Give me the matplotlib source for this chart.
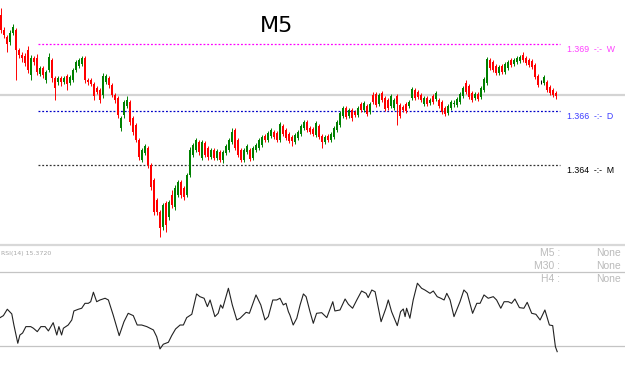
import numpy as np
import matplotlib
matplotlib.use("Agg")
import matplotlib.pyplot as plt
from matplotlib.lines import Line2D

# candle prices are kept in points (0.00001) above BASE
BASE = 1.36
POINT = 0.00001

opens = [1016, 956, 928, 908, 944, 956, 876, 856, 852, 876,
         776, 844, 844, 780, 804, 756, 796, 836, 764, 748,
         764, 748, 772, 744, 756, 796, 812, 820, 844, 756,
         756, 740, 724, 716, 696, 748, 764, 736, 696, 684,
         564, 616, 652, 668, 604, 576, 516, 436, 464, 484,
         416, 356, 276, 228, 168, 264, 208, 296, 248, 296,
         348, 324, 296, 376, 456, 476, 508, 444, 504, 484,
         448, 476, 444, 468, 436, 464, 476, 508, 556, 516,
         476, 436, 468, 476, 444, 476, 484, 496, 532, 516,
         532, 548, 544, 516, 572, 556, 540, 528, 508, 524,
         540, 564, 588, 564, 560, 536, 572, 532, 508, 532,
         516, 528, 556, 576, 612, 644, 612, 636, 628, 616,
         660, 636, 652, 628, 696, 700, 660, 704, 684, 676,
         652, 644, 692, 656, 648, 660, 652, 684, 716, 708,
         696, 660, 684, 664, 692, 680, 676, 668, 644, 624,
         644, 660, 656, 668, 692, 744, 732, 704, 684, 700,
         688, 716, 744, 836, 828, 812, 784, 812, 788, 804,
         836, 820, 828, 832, 856, 844, 836, 832, 816, 772,
         748, 744, 748, 728, 716, 704]
closes = [956, 936, 900, 944, 968, 876, 856, 844, 824, 796,
          844, 828, 788, 804, 776, 788, 848, 764, 724, 764,
          748, 764, 740, 768, 796, 828, 836, 844, 756, 748,
          740, 692, 708, 676, 772, 772, 736, 696, 676, 616,
          604, 668, 676, 588, 548, 516, 448, 476, 492, 416,
          328, 228, 228, 164, 256, 176, 268, 256, 324, 348,
          296, 288, 376, 476, 496, 516, 468, 508, 456, 448,
          476, 444, 472, 436, 468, 492, 516, 548, 484, 456,
          436, 476, 492, 440, 484, 496, 516, 528, 516, 544,
          556, 528, 516, 580, 540, 524, 512, 512, 536, 548,
          572, 588, 556, 548, 540, 584, 528, 508, 528, 516,
          540, 564, 588, 624, 644, 608, 636, 604, 616, 644,
          636, 664, 620, 660, 668, 656, 696, 676, 640, 644,
          692, 676, 660, 612, 636, 632, 668, 720, 684, 688,
          676, 684, 660, 676, 668, 704, 652, 628, 620, 652,
          668, 664, 680, 700, 724, 708, 688, 676, 700, 680,
          724, 760, 840, 804, 796, 784, 808, 788, 820, 828,
          816, 836, 844, 848, 836, 824, 816, 808, 768, 736,
          748, 768, 716, 704, 696, 692]
highs = [1044, 968, 936, 956, 980, 964, 884, 868, 864, 892,
         856, 852, 860, 812, 812, 796, 864, 844, 772, 772,
         772, 772, 780, 776, 804, 836, 844, 852, 852, 764,
         764, 748, 732, 724, 784, 780, 772, 744, 704, 692,
         612, 676, 692, 676, 612, 584, 524, 484, 500, 492,
         424, 364, 284, 236, 264, 272, 276, 316, 336, 356,
         356, 332, 384, 488, 504, 524, 516, 516, 512, 492,
         484, 484, 480, 476, 476, 500, 524, 564, 564, 524,
         484, 484, 500, 484, 492, 504, 524, 536, 540, 552,
         564, 556, 552, 588, 580, 564, 548, 536, 544, 556,
         580, 596, 596, 572, 568, 592, 580, 540, 536, 540,
         548, 572, 596, 632, 652, 652, 644, 644, 636, 652,
         668, 672, 660, 668, 708, 708, 704, 712, 692, 684,
         700, 684, 700, 664, 656, 668, 676, 728, 724, 716,
         704, 692, 692, 684, 700, 712, 684, 676, 652, 660,
         676, 676, 688, 708, 732, 756, 740, 712, 708, 708,
         732, 768, 848, 844, 836, 820, 816, 820, 828, 836,
         844, 844, 852, 856, 868, 852, 844, 840, 824, 780,
         756, 776, 756, 736, 724, 712]
lows = [944, 924, 868, 896, 936, 756, 844, 828, 812, 784,
        756, 816, 776, 772, 764, 744, 788, 748, 676, 736,
        732, 740, 716, 736, 748, 788, 804, 812, 744, 736,
        732, 676, 700, 664, 684, 740, 724, 688, 664, 604,
        552, 604, 644, 576, 536, 508, 436, 428, 456, 404,
        316, 216, 216, 128, 156, 148, 196, 244, 236, 288,
        284, 276, 288, 368, 448, 468, 456, 436, 448, 436,
        440, 436, 436, 428, 424, 456, 468, 500, 476, 448,
        428, 428, 460, 432, 436, 468, 476, 488, 508, 508,
        524, 520, 508, 508, 532, 516, 504, 492, 500, 516,
        532, 556, 548, 540, 532, 528, 520, 484, 500, 508,
        508, 520, 548, 568, 604, 600, 604, 592, 608, 608,
        628, 628, 612, 620, 660, 648, 652, 668, 632, 636,
        644, 636, 576, 604, 628, 624, 644, 676, 676, 680,
        668, 652, 652, 656, 660, 672, 644, 620, 612, 616,
        636, 648, 648, 660, 684, 700, 680, 668, 676, 672,
        680, 708, 736, 796, 788, 776, 776, 780, 780, 796,
        808, 812, 820, 824, 828, 816, 808, 800, 760, 728,
        740, 736, 708, 696, 688, 680]

bid = 1.36696
levels = [1.36900, 1.36632, 1.36416]
level_names = ["W", "D", "M"]
level_colors = ["#ff00ff", "#0000c8", "#333333"]
label_colors = ["#ff40ff", "#3c3cff", "#000000"]

# RSI(14), positions in candle index units
rsi_idx = [-0.3, 0.8, 2.1, 3.6, 4.3, 5.6, 6.3, 7.2, 8.3, 9.9,
           10.8, 12.1, 13.3, 14.7, 15.8, 17.4, 18.6, 19.3, 20.2, 20.8,
           22.4, 23.6, 24.3, 25.8, 26.9, 28.0, 29.1, 29.9, 30.8, 31.9,
           33.0, 34.7, 35.8, 37.4, 39.4, 41.0, 42.4, 44.1, 45.4, 46.9,
           48.6, 50.8, 51.9, 53.0, 54.1, 55.8, 56.9, 58.2, 59.7, 60.8,
           61.9, 63.6, 65.2, 66.3, 67.7, 68.8, 69.7, 71.3, 72.4, 73.2,
           73.9, 75.8, 77.1, 78.6, 79.7, 81.7, 82.8, 85.0, 86.6, 88.0,
           89.1, 90.6, 91.9, 93.0, 94.1, 95.0, 95.8, 96.3, 97.4, 98.6,
           99.7, 100.8, 101.7, 103.0, 104.1, 105.2, 106.9, 108.6, 110.6, 111.3,
           113.0, 114.7, 115.8, 117.2, 118.6, 120.2, 121.7, 122.4, 123.6, 124.7,
           126.7, 128.3, 129.1, 130.2, 132.1, 133.2, 134.1, 134.7, 135.2, 136.3,
           137.4, 138.8, 140.2, 141.3, 143.0, 144.1, 145.4, 146.6, 147.7, 148.6,
           149.7, 151.0, 151.9, 153.0, 154.3, 155.4, 157.2, 158.6, 159.7, 161.0,
           162.4, 164.1, 165.2, 166.6, 167.7, 169.1, 170.2, 171.3, 172.8, 174.3,
           175.4, 176.9, 178.3, 179.7, 181.3, 182.8, 183.9, 184.8, 185.4]
rsi_val = [43.0, 44.6, 49.8, 46.0, 37.0, 22.2, 28.9, 30.5, 35.7, 35.7,
           34.4, 31.6, 35.7, 35.7, 32.2, 38.9, 28.9, 35.7, 28.9, 34.4,
           37.0, 41.1, 48.4, 49.8, 50.6, 54.6, 54.6, 55.9, 63.6, 55.9,
           57.3, 58.7, 57.3, 45.1, 28.4, 39.7, 46.5, 44.6, 37.0, 37.0,
           35.7, 33.0, 27.5, 17.6, 21.4, 23.0, 28.4, 33.8, 37.0, 37.0,
           43.0, 45.7, 62.2, 60.0, 58.7, 51.9, 57.3, 43.8, 46.5, 53.3,
           50.6, 66.8, 53.3, 41.1, 42.5, 47.3, 46.5, 61.4, 53.3, 41.1,
           43.8, 57.3, 57.3, 58.7, 53.3, 54.6, 47.8, 45.1, 37.0, 42.5,
           53.3, 62.2, 60.0, 47.8, 38.4, 46.5, 47.0, 43.0, 55.9, 48.4,
           49.2, 58.1, 53.8, 50.6, 57.3, 64.6, 62.7, 59.2, 65.4, 64.0,
           39.7, 50.6, 57.3, 47.8, 36.5, 47.8, 50.0, 43.8, 50.6, 42.5,
           57.3, 70.9, 66.8, 65.4, 62.7, 64.6, 60.0, 58.7, 57.3, 62.7,
           57.3, 43.8, 49.2, 55.9, 65.4, 62.7, 46.5, 54.6, 54.6, 61.4,
           58.7, 60.0, 57.3, 50.6, 55.9, 55.9, 54.6, 58.1, 51.1, 50.6,
           55.4, 46.5, 45.7, 41.1, 49.2, 37.0, 36.5, 19.4, 15.372]
rsi_levels = [20, 80]

tf_names = ["M5", "M30", "H4"]
tf_signals = ["None", "None", "None"]

W, H = 625, 370
fig = plt.figure(figsize=(W / 100, H / 100), dpi=100)
ax = fig.add_axes([0, 1 - 244 / H, 1, 244 / H])
ax2 = fig.add_axes([0, 0, 1, 124 / H])
for a in (ax, ax2):
    a.set_axis_off()
    a.set_xlim(-0.33, 208)

o = BASE + np.array(opens) * POINT
c = BASE + np.array(closes) * POINT
h = BASE + np.array(highs) * POINT
l = BASE + np.array(lows) * POINT
x = np.arange(len(o))
colors = np.where(c > o, "#008000", np.where(c < o, "#ff0000", "#000000"))

ax.set_ylim(1.36100, 1.37076)
ax.axhline(bid, color="#d4d4d4", lw=1.6, zorder=0)

ax.vlines(x, l, h, colors=colors, lw=0.7, zorder=2)
ax.bar(x, np.maximum(np.abs(c - o), 0.4 * POINT), bottom=np.minimum(o, c),
       width=0.62, color=colors, linewidth=0, zorder=3)

# weekly / daily / monthly levels
for lvl, name, lc, tc in zip(levels, level_names, level_colors, label_colors):
    ax.plot([12.3, len(o) + 0.3], [lvl, lvl], color=lc, lw=0.9,
            linestyle=(0, (1.5, 1.5)), zorder=1)
    ax.annotate(f"{lvl:.3f}  -:-  {name}", xy=(188.6, lvl), xytext=(0, -4),
                textcoords="offset points", va="center", ha="left",
                fontsize=6.3, color=tc, family="Liberation Sans")

fig.text(277 / W, 1 - 26.5 / H, "M5", ha="center", va="center", fontsize=16)

# panel separator
fig.add_artist(Line2D([0, 1], [1 - 245 / H] * 2, transform=fig.transFigure,
                      color="#d8d8d8", lw=1.6))

# RSI panel
ax2.set_ylim(0.5, 101.1)
for lv in rsi_levels:
    ax2.axhline(lv, color="#c4c4c4", lw=0.9, zorder=0)
ax2.plot(rsi_idx, rsi_val, color="#222222", lw=0.8)

fig.text(1 / W, 1 - 253 / H, f"RSI(14) {rsi_val[-1]:.4f}", fontsize=4.5,
         color="#a8a8a8", va="center", ha="left")
for k, (name, sig) in enumerate(zip(tf_names, tf_signals)):
    yy = 1 - (253 + 13 * k) / H
    fig.text(560 / W, yy, f"{name} :", ha="right", va="center", fontsize=7.5,
             color="#bbbbbb", family="Liberation Sans")
    fig.text(621 / W, yy, sig, ha="right", va="center", fontsize=7.5,
             color="#bbbbbb", family="Liberation Sans")

fig.savefig("out.png", dpi=100)
